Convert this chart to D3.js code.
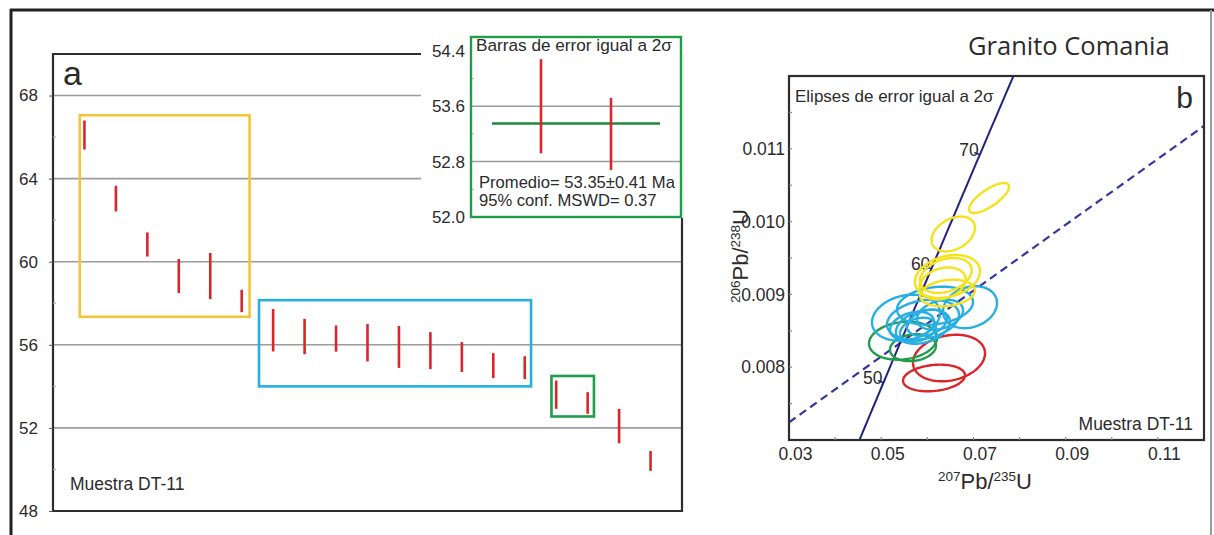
<!DOCTYPE html>
<html>
<head>
<meta charset="utf-8">
<script src="https://cdn.jsdelivr.net/npm/d3@7"></script>
<style>
  html, body { margin: 0; padding: 0; background: #fff; }
  svg { display: block; }
  text { font-family: "Liberation Sans", Arial, Helvetica, sans-serif; fill: #2b2b2b; }
</style>
</head>
<body>
<svg id="fig" width="1214" height="535"></svg>
<script>
// ---- Panel a: individual 206Pb/238U ages (Ma) with 2-sigma bars ----
const analysis = d3.range(1, 20);
const ageMa = [66.10, 63.04, 60.83, 59.31, 59.31, 58.11, 56.70, 56.40, 56.30, 56.10,
               55.90, 55.72, 55.41, 55.00, 54.90, 53.60, 53.20, 52.09, 50.41];
const ageErr = [0.70, 0.62, 0.58, 0.82, 1.11, 0.54, 1.02, 0.85, 0.63, 0.90,
                1.01, 0.89, 0.72, 0.60, 0.55, 0.68, 0.52, 0.83, 0.48];
const ageTicks = [48, 52, 56, 60, 64, 68];
const ageMinorTicks = [50, 54, 58, 62, 66];

// age populations outlined in panel a: [x0, x1, ageLow, ageHigh]
const yellowGroup = [0.85, 6.25, 57.35, 67.05];
const blueGroup = [6.55, 15.2, 54.0, 58.15];
const greenGroup = [15.85, 17.2, 52.55, 54.5];

// weighted mean of the youngest concordant population
const meanMembers = [16, 17];
const meanAge = 53.35;
const meanErr = 0.41;
const mswd = 0.37;
const insetTicks = [52.0, 52.8, 53.6, 54.4];
const insetMinorTicks = [52.4, 53.2, 54.0];

// ---- Panel b: concordia diagram, ellipses [207Pb/235U, 206Pb/238U, 2s x, 2s y, rho] ----
const yellowEllipses = [
  [0.07337, 0.010324, 0.00434, 0.000206, 0.75],
  [0.06563, 0.009830, 0.00470, 0.000240, 0.35],
  [0.06437, 0.009246, 0.00705, 0.000295, 0.25],
  [0.06401, 0.009260, 0.00560, 0.000240, 0.30],
  [0.06437, 0.009019, 0.00596, 0.000183, 0.20],
  [0.06330, 0.009150, 0.00500, 0.000220, 0.25]
];
const blueEllipses = [
  [0.05537, 0.008680, 0.00737, 0.000316, 0.20],
  [0.06925, 0.008824, 0.00586, 0.000288, 0.20],
  [0.06166, 0.008845, 0.00824, 0.000261, 0.20],
  [0.05906, 0.008653, 0.00781, 0.000275, 0.25],
  [0.05906, 0.008556, 0.00586, 0.000234, 0.30],
  [0.05798, 0.008515, 0.00390, 0.000165, 0.30],
  [0.05993, 0.008611, 0.00434, 0.000179, 0.30],
  [0.06275, 0.008721, 0.00499, 0.000206, 0.30],
  [0.05668, 0.008569, 0.00477, 0.000192, 0.30]
];
const greenEllipses = [
  [0.05472, 0.008364, 0.00737, 0.000261, 0.15],
  [0.05689, 0.008268, 0.00499, 0.000185, 0.15]
];
const redEllipses = [
  [0.06470, 0.008126, 0.00781, 0.000320, 0.20],
  [0.06145, 0.007852, 0.00672, 0.000183, 0.20]
];
const concordiaAges = [50, 60, 70];
const refLine = [[0.03, 0.007242], [0.12, 0.011314]];
const xTicksB = [0.03, 0.05, 0.07, 0.09, 0.11];
const xMinorB = [0.04, 0.05, 0.06, 0.07, 0.08, 0.09, 0.10, 0.11];
const yTicksB = [0.008, 0.009, 0.010, 0.011];
const yMinorB = [0.0075, 0.0085, 0.0095, 0.0105, 0.0115];

// decay constants (1/yr)
const L238 = 1.55125e-10, L235 = 9.8485e-10;

const C = {
  red: "#d8262b", yellowBox: "#f5c43a", yellowEll: "#f4e21c",
  blue: "#27aee3", green: "#1f9d4a", grid: "#9c9c9c",
  frame: "#2e2e2e", navy: "#23237f", dash: "#3636a2"
};

const svg = d3.select("#fig");

// outer figure frame
svg.append("line").attr("x1", 11).attr("x2", 11).attr("y1", 9).attr("y2", 535)
  .attr("stroke", "#222").attr("stroke-width", 3);
svg.append("line").attr("x1", 10).attr("x2", 1214).attr("y1", 10).attr("y2", 10)
  .attr("stroke", "#222").attr("stroke-width", 3);
svg.append("line").attr("x1", 1211).attr("x2", 1211).attr("y1", 10).attr("y2", 535)
  .attr("stroke", "#9a9a9a").attr("stroke-width", 2);

// ================= Panel a =================
const xA = d3.scaleLinear().domain([0, 20]).range([53, 682]);
const yA = d3.scaleLinear().domain([48, 70]).range([511, 54]);
const gA = svg.append("g");

gA.selectAll("line.grid").data(ageTicks.filter(d => d > 48)).join("line")
  .attr("x1", xA(0)).attr("x2", xA(20)).attr("y1", d => yA(d)).attr("y2", d => yA(d))
  .attr("stroke", C.grid).attr("stroke-width", 1.6);

// frame
gA.append("path")
  .attr("d", `M${xA(20)},${yA(70)} L${xA(0)},${yA(70)} L${xA(0)},${yA(48)} L${xA(20)},${yA(48)} Z`)
  .attr("fill", "none").attr("stroke", C.frame).attr("stroke-width", 2.2);

// left axis ticks and labels
const axA = d3.axisLeft(yA).tickValues(ageTicks).tickSize(4).tickPadding(11).tickFormat(d3.format("d"));
const axAG = gA.append("g").attr("transform", `translate(${xA(0)},0)`).call(axA);
axAG.select(".domain").remove();
axAG.selectAll("line").attr("stroke", "#555");
axAG.selectAll("text").style("font-size", "17px").attr("fill", "#2b2b2b")
  .style("font-family", '"Liberation Sans", Arial, sans-serif');
gA.selectAll("line.minor").data(ageMinorTicks).join("line")
  .attr("x1", xA(0)).attr("x2", xA(0) + 3).attr("y1", d => yA(d)).attr("y2", d => yA(d))
  .attr("stroke", "#aaa").attr("stroke-width", 1.2);

// population outlines
[[yellowGroup, C.yellowBox], [blueGroup, C.blue], [greenGroup, C.green]].forEach(([b, col]) => {
  gA.append("rect")
    .attr("x", xA(b[0])).attr("y", yA(b[3]))
    .attr("width", xA(b[1]) - xA(b[0])).attr("height", yA(b[2]) - yA(b[3]))
    .attr("fill", "none").attr("stroke", col).attr("stroke-width", 2.6);
});

// age bars
gA.selectAll("line.bar").data(analysis).join("line")
  .attr("x1", d => xA(d)).attr("x2", d => xA(d))
  .attr("y1", (d, i) => yA(ageMa[i] + ageErr[i])).attr("y2", (d, i) => yA(ageMa[i] - ageErr[i]))
  .attr("stroke", C.red).attr("stroke-width", 2.6);

gA.append("text").attr("x", 63).attr("y", 85).style("font-size", "34px").attr("fill", "#222").text("a");
gA.append("text").attr("x", 70).attr("y", 490).style("font-size", "17.5px").text("Muestra DT-11");

// ---- weighted-mean inset ----
const gI = svg.append("g");
gI.append("rect").attr("x", 421).attr("y", 24).attr("width", 262).attr("height", 194).attr("fill", "#fff");
const xI = d3.scaleLinear().domain([0, 3]).range([471, 681]);
const yI = d3.scaleLinear().domain([52.0, 54.6]).range([217, 37]);

gI.selectAll("line.grid").data(insetTicks.filter(d => d > 52 && d < 54.4)).join("line")
  .attr("x1", xI(0)).attr("x2", xI(3)).attr("y1", d => yI(d)).attr("y2", d => yI(d))
  .attr("stroke", C.grid).attr("stroke-width", 1.5);
gI.selectAll("line.minor").data(insetMinorTicks).join("line")
  .attr("x1", xI(0)).attr("x2", xI(0) + 3).attr("y1", d => yI(d)).attr("y2", d => yI(d))
  .attr("stroke", "#bbb").attr("stroke-width", 1.2);
gI.selectAll("text.tick").data(insetTicks).join("text")
  .attr("x", 465).attr("y", d => yI(d)).attr("dy", "0.35em").attr("text-anchor", "end")
  .style("font-size", "17px").text(d => d.toFixed(1));

gI.append("line")
  .attr("x1", xI(0.3)).attr("x2", xI(2.7)).attr("y1", yI(meanAge)).attr("y2", yI(meanAge))
  .attr("stroke", "#1e8a3e").attr("stroke-width", 2.6);
gI.selectAll("line.bar").data(meanMembers).join("line")
  .attr("x1", (d, i) => xI(i + 1)).attr("x2", (d, i) => xI(i + 1))
  .attr("y1", d => yI(ageMa[d - 1] + ageErr[d - 1])).attr("y2", d => yI(ageMa[d - 1] - ageErr[d - 1]))
  .attr("stroke", C.red).attr("stroke-width", 2.6);

gI.append("rect").attr("x", xI(0)).attr("y", yI(54.6))
  .attr("width", xI(3) - xI(0)).attr("height", yI(52.0) - yI(54.6))
  .attr("fill", "none").attr("stroke", C.green).attr("stroke-width", 2.4);

gI.append("text").attr("x", 476).attr("y", 51).style("font-size", "17.2px")
  .text("Barras de error igual a 2σ");
gI.append("text").attr("x", 479).attr("y", 188).style("font-size", "16.6px")
  .text(`Promedio= ${meanAge.toFixed(2)}±${meanErr.toFixed(2)} Ma`);
gI.append("text").attr("x", 479).attr("y", 206).style("font-size", "16.6px")
  .text(`95% conf. MSWD= ${mswd.toFixed(2)}`);

// ================= Panel b =================
const xB = d3.scaleLinear().domain([0.03, 0.12]).range([789, 1204]);
const yB = d3.scaleLinear().domain([0.007, 0.012]).range([440, 76]);
const gB = svg.append("g");

gB.append("clipPath").attr("id", "clipB").append("rect")
  .attr("x", 789).attr("y", 76).attr("width", 415).attr("height", 364);
const plotB = gB.append("g").attr("clip-path", "url(#clipB)");

// reference line
plotB.append("line")
  .attr("x1", xB(refLine[0][0])).attr("y1", yB(refLine[0][1]))
  .attr("x2", xB(refLine[1][0])).attr("y2", yB(refLine[1][1]))
  .attr("stroke", C.dash).attr("stroke-width", 2.2).attr("stroke-dasharray", "8,5");

// concordia curve
const concordia = t => [Math.exp(L235 * t * 1e6) - 1, Math.exp(L238 * t * 1e6) - 1];
const curvePts = d3.range(40, 85, 0.5).map(concordia);
plotB.append("path")
  .attr("d", d3.line().x(d => xB(d[0])).y(d => yB(d[1]))(curvePts))
  .attr("fill", "none").attr("stroke", C.navy).attr("stroke-width", 2);

concordiaAges.forEach(t => {
  const p = concordia(t), q = concordia(t + 0.5);
  const px = xB(p[0]), py = yB(p[1]);
  const dx = xB(q[0]) - px, dy = yB(q[1]) - py, len = Math.hypot(dx, dy);
  const nx = -dy / len, ny = dx / len;
  plotB.append("line")
    .attr("x1", px).attr("y1", py).attr("x2", px - nx * 6).attr("y2", py - ny * 6)
    .attr("stroke", C.navy).attr("stroke-width", 1.5);
  plotB.append("text").attr("x", px - 1).attr("y", py + 1).attr("text-anchor", "end")
    .style("font-size", "17.5px").text(t);
});

// error ellipses
const ellipsePath = e => {
  const [cx, cy, sx, sy, rho] = e;
  const k = Math.sqrt(1 - rho * rho);
  const pts = d3.range(0, 2 * Math.PI, Math.PI / 60).map(a =>
    [xB(cx + sx * Math.cos(a)), yB(cy + sy * (rho * Math.cos(a) + k * Math.sin(a)))]);
  return d3.line().curve(d3.curveLinearClosed)(pts);
};
[[redEllipses, C.red], [greenEllipses, C.green], [blueEllipses, C.blue], [yellowEllipses, C.yellowEll]]
  .forEach(([set, col]) => {
    plotB.append("g").selectAll("path").data(set).join("path")
      .attr("d", ellipsePath).attr("fill", "none").attr("stroke", col).attr("stroke-width", 2.4);
  });

// frame
gB.append("rect").attr("x", 789).attr("y", 76).attr("width", 415).attr("height", 364)
  .attr("fill", "none").attr("stroke", C.frame).attr("stroke-width", 2.2);

// ticks (inward)
gB.selectAll("line.xt").data(xMinorB).join("line")
  .attr("x1", d => xB(d)).attr("x2", d => xB(d)).attr("y1", 440).attr("y2", 437)
  .attr("stroke", "#888").attr("stroke-width", 1.2);
gB.selectAll("line.yt").data(yTicksB.concat(yMinorB)).join("line")
  .attr("x1", 789).attr("x2", 792).attr("y1", d => yB(d)).attr("y2", d => yB(d))
  .attr("stroke", "#888").attr("stroke-width", 1.2);

gB.selectAll("text.xl").data(xTicksB).join("text")
  .attr("x", d => xB(d) + 6.5).attr("y", 460).attr("text-anchor", "middle")
  .style("font-size", "17.5px").text(d => d.toFixed(2));
gB.selectAll("text.yl").data(yTicksB).join("text")
  .attr("x", 785).attr("y", d => yB(d)).attr("dy", "0.35em").attr("text-anchor", "end")
  .style("font-size", "17.5px").text(d => d.toFixed(3));

// axis titles
const xt = gB.append("text").attr("x", 985).attr("y", 489).attr("text-anchor", "middle")
  .style("font-size", "22px");
xt.append("tspan").attr("dy", "-8").style("font-size", "13.5px").text("207");
xt.append("tspan").attr("dy", "8").text("Pb/");
xt.append("tspan").attr("dy", "-8").style("font-size", "13.5px").text("235");
xt.append("tspan").attr("dy", "8").text("U");

const yt = gB.append("text").attr("transform", "translate(748,256) rotate(-90)")
  .attr("text-anchor", "middle").style("font-size", "22px");
yt.append("tspan").attr("dy", "-8").style("font-size", "13.5px").text("206");
yt.append("tspan").attr("dy", "8").text("Pb/");
yt.append("tspan").attr("dy", "-8").style("font-size", "13.5px").text("238");
yt.append("tspan").attr("dy", "8").text("U");

gB.append("text").attr("x", 795).attr("y", 102).style("font-size", "17px")
  .text("Elipses de error igual a 2σ");
gB.append("text").attr("x", 1193).attr("y", 108).attr("text-anchor", "end")
  .style("font-size", "30px").attr("fill", "#222").text("b");
gB.append("text").attr("x", 1193).attr("y", 430).attr("text-anchor", "end")
  .style("font-size", "17.5px").text("Muestra DT-11");

svg.append("text").attr("x", 968).attr("y", 55)
  .style("font-family", '"Open Sans", "Noto Sans", sans-serif').style("font-size", "25.5px")
  .attr("fill", "#111").text("Granito Comania");
</script>
</body>
</html>
